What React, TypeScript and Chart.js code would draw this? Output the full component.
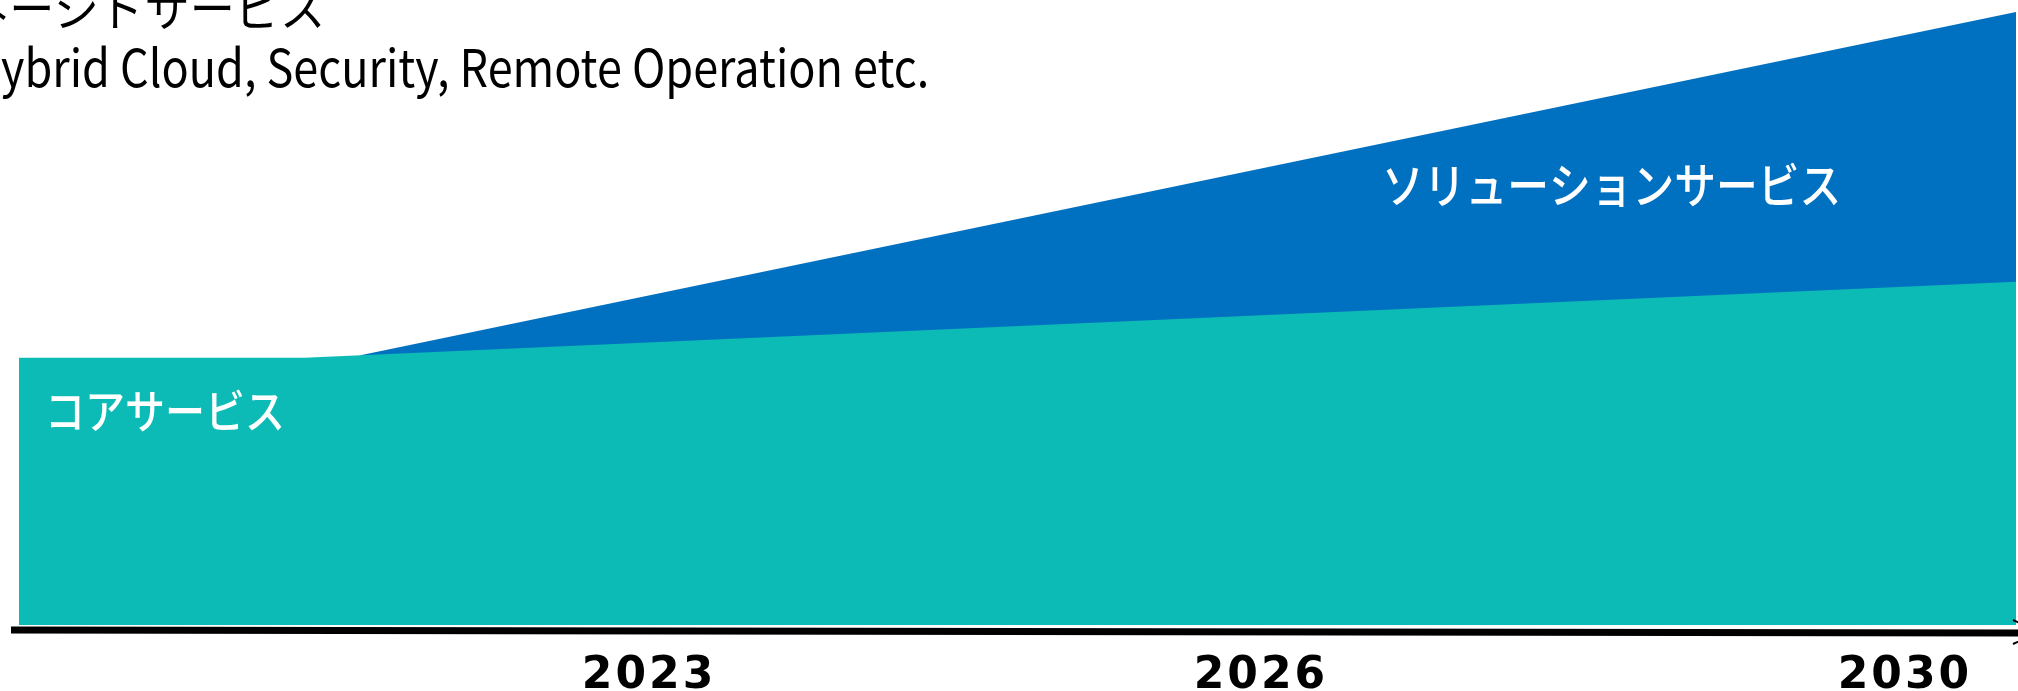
import React, { useEffect, useRef } from "react";
import { Chart, registerables } from "chart.js";

Chart.register(...registerables);

// Timeline position (0 = left edge of chart, 100 = right edge) and share value (0..100)
const coreX = [0, 14.3, 100];
const coreY = [43.6, 43.6, 56.0];
const solutionX = [17.1, 100];
const solutionY = [44.0, 100];
const tickPositions = [31.55, 62.19, 94.44];
const tickLabels = ["2023", "2026", "2030"];

const coreLabel = "コアサービス";
const solutionLabel = "ソリューションサービス";
const managedTitle = "マネージドサービス";
const managedDetail = "Hybrid Cloud, Security, Remote Operation etc.";

const TEAL = "#0CBBB5";
const BLUE = "#0070C0";
const JP = '"Noto Sans CJK JP", "Noto Sans", sans-serif';

function drawScaled(
  ctx: CanvasRenderingContext2D,
  text: string,
  x: number,
  y: number,
  sx: number,
  align: CanvasTextAlign
) {
  ctx.save();
  ctx.translate(x, y);
  ctx.scale(sx, 1);
  ctx.textAlign = align;
  ctx.fillText(text, 0, 0);
  ctx.restore();
}

const spacingPlugin = {
  id: "tickSpacing",
  beforeDraw(chart: any) {
    (chart.ctx as any).letterSpacing = "3px";
  },
  beforeDatasetsDraw(chart: any) {
    (chart.ctx as any).letterSpacing = "0px";
  },
};

const overlayPlugin = {
  id: "overlay",
  afterDatasetsDraw(chart: any) {
    const ctx = chart.ctx as CanvasRenderingContext2D;
    ctx.save();
    (ctx as any).letterSpacing = "0px";
    // series labels
    ctx.fillStyle = "#ffffff";
    ctx.textBaseline = "middle";
    ctx.font = `500 46px ${JP}`;
    drawScaled(ctx, coreLabel, 45, 411, 0.87, "left");
    ctx.font = `500 48px ${JP}`;
    drawScaled(ctx, solutionLabel, 1382, 185, 0.87, "left");

    // top text (partially cut off at the top-left)
    ctx.fillStyle = "#000000";
    ctx.textBaseline = "alphabetic";
    ctx.font = `48px ${JP}`;
    drawScaled(ctx, managedTitle, 325, 26, 0.94, "right");
    ctx.font = `52px ${JP}`;
    const s = 0.865;
    const hW = ctx.measureText("H").width;
    drawScaled(ctx, managedDetail, 1 - hW * s, 87, s, "left");

    // x axis line with arrow
    ctx.strokeStyle = "#000000";
    ctx.lineWidth = 7;
    ctx.beginPath();
    ctx.moveTo(11, 630);
    ctx.lineTo(2018, 633);
    ctx.stroke();
    ctx.lineWidth = 2;
    ctx.beginPath();
    ctx.moveTo(2013, 620);
    ctx.lineTo(2040, 632);
    ctx.lineTo(2013, 644);
    ctx.stroke();
    ctx.restore();
  },
};

export default function App() {
  const ref = useRef<HTMLCanvasElement | null>(null);

  useEffect(() => {
    if (!ref.current) return;
    const chart = new Chart(ref.current, {
      type: "line",
      data: {
        datasets: [
          {
            label: coreLabel,
            data: coreX.map((x, i) => ({ x, y: coreY[i] })),
            backgroundColor: TEAL,
            borderColor: TEAL,
            borderWidth: 0,
            fill: "origin",
            pointRadius: 0,
            tension: 0,
            order: 0,
          },
          {
            label: solutionLabel,
            data: solutionX.map((x, i) => ({ x, y: solutionY[i] })),
            backgroundColor: BLUE,
            borderColor: BLUE,
            borderWidth: 0,
            fill: "origin",
            pointRadius: 0,
            tension: 0,
            order: 1,
          },
        ],
      },
      options: {
        animation: false,
        responsive: false,
        maintainAspectRatio: false,
        layout: { padding: { left: 19, right: 2, top: 12, bottom: 0 } },
        plugins: {
          legend: { display: false },
          tooltip: { enabled: false },
        },
        scales: {
          x: {
            type: "linear",
            min: 0,
            max: 100,
            grid: { display: false, drawTicks: false },
            border: { display: false },
            afterBuildTicks: (scale: any) => {
              scale.ticks = tickPositions.map((v) => ({ value: v }));
            },
            afterFit: (scale: any) => {
              scale.height = 66;
            },
            ticks: {
              autoSkip: false,
              maxRotation: 0,
              padding: 25,
              color: "#000000",
              font: { family: '"DejaVu Sans", sans-serif', size: 44, weight: "bold" },
              callback: (_v: any, i: number) => tickLabels[i],
            },
          },
          y: {
            display: false,
            min: 0,
            max: 100,
          },
        },
      },
      plugins: [spacingPlugin, overlayPlugin],
    });
    return () => chart.destroy();
  }, []);

  return (
    <div
      style={{
        position: "fixed",
        left: 0,
        top: 0,
        width: 2018,
        height: 691,
        background: "#ffffff",
        overflow: "hidden",
      }}
    >
      <canvas ref={ref} width={2018} height={691} style={{ display: "block" }} />
    </div>
  );
}
